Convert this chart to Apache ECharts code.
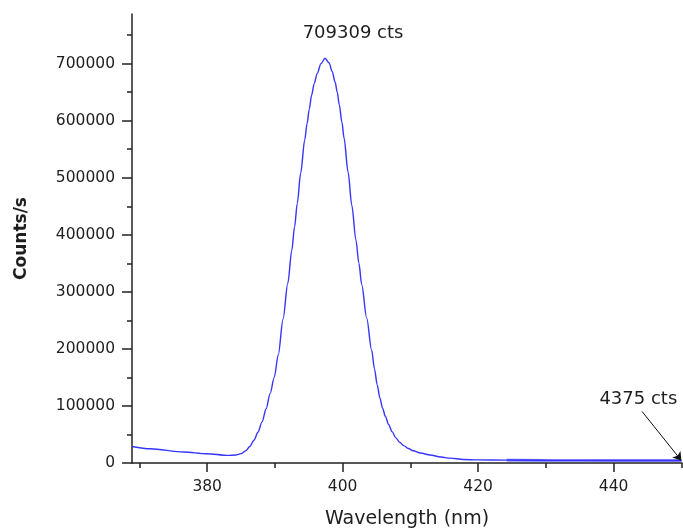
<!DOCTYPE html>
<html>
<head>
<meta charset="utf-8">
<script src="https://cdn.jsdelivr.net/npm/echarts@6/dist/echarts.min.js"></script>
<style>
html,body{margin:0;padding:0;background:#fff;}
#chart{width:683px;height:529px;}
</style>
</head>
<body>
<div id="chart"></div>
<script>
// Wavelength (nm)
const wavelengths = [368.9, 371.6, 376.5, 379.9, 383.0, 384.2, 385.0, 385.7, 386.3, 386.9,
  387.5, 388.1, 388.7, 389.3, 389.9, 390.5, 391.2, 391.9, 392.5, 392.9,
  393.3, 393.8, 394.4, 394.75, 395.07, 395.42, 395.8, 396.25, 396.8, 397.4,
  398.0, 398.46, 398.9, 399.2, 399.5, 399.9, 400.2, 400.8, 401.35, 401.96,
  402.4, 402.81, 403.55, 404.28, 404.7, 405.1, 405.5, 405.9, 406.3, 406.8,
  407.3, 407.8, 408.4, 409.0, 409.7, 410.4, 411.5, 412.9, 414.5, 415.9,
  417.8, 420.0, 424.2, 430, 440, 450];
// Counts/s
const counts = [29000, 25000, 19300, 16300, 13300, 14000, 16500, 21500, 29000, 40000,
  54000, 72000, 95000, 122000, 150000, 190000, 252000, 315000, 373500, 414000,
  455000, 507800, 566100, 595300, 620000, 645000, 665000, 683000, 700000, 709309,
  701000, 686000, 667000, 650000, 628000, 597000, 570000, 510000, 452000, 391000,
  350000, 313000, 254000, 198000, 165000, 137000, 114000, 96000, 82000, 67000,
  55000, 45000, 36500, 30500, 25500, 21500, 17500, 14000, 10500, 8500,
  6200, 5400, 5000, 4600, 4450, 4375];
const xTickLabels = [380, 400, 420, 440];
const yTickLabels = [0, 100000, 200000, 300000, 400000, 500000, 600000, 700000];

const seriesData = wavelengths.map((w, i) => [w, counts[i]]);
const peakIdx = counts.indexOf(Math.max(...counts));
const lastIdx = counts.length - 1;
// the far tail of the trace is drawn heavier in the original
const tailData = seriesData.filter(d => d[0] >= 424.2);

const FONT = 'DejaVu Sans';
const TXT = '#1e1e1e';
const AX = '#222';

const chart = echarts.init(document.getElementById('chart'), null, {renderer: 'canvas'});
chart.setOption({
  animation: false,
  backgroundColor: '#fff',
  grid: {left: 132, right: 1, top: 14, bottom: 66, containLabel: false, outerBoundsMode: 'none'},
  xAxis: {
    type: 'value', min: 368.9, max: 450.1,
    axisLine: {show: true, onZero: false, lineStyle: {color: AX, width: 1.5}},
    axisTick: {show: true, inside: false, length: 9, customValues: xTickLabels, lineStyle: {color: AX, width: 1.5}},
    minorTick: {show: true, splitNumber: 2, length: 5, lineStyle: {color: AX, width: 1.5}},
    axisLabel: {customValues: xTickLabels, margin: 16, fontFamily: FONT, fontSize: 15.5, color: TXT,
      formatter: v => String(v)},
    splitLine: {show: false}, minorSplitLine: {show: false},
    name: 'Wavelength (nm)', nameLocation: 'middle', nameGap: 47,
    nameTextStyle: {fontFamily: FONT, fontSize: 19, color: TXT}
  },
  yAxis: {
    type: 'value', min: 0, max: 787000, interval: 100000,
    axisLine: {show: true, onZero: false, lineStyle: {color: AX, width: 1.5}},
    axisTick: {show: true, inside: false, length: 10, customValues: yTickLabels, lineStyle: {color: AX, width: 1.5}},
    minorTick: {show: true, splitNumber: 2, length: 5, lineStyle: {color: AX, width: 1.5}},
    axisLabel: {customValues: yTickLabels, margin: 17, fontFamily: FONT, fontSize: 15.5, color: TXT,
      formatter: v => String(v)},
    splitLine: {show: false}, minorSplitLine: {show: false},
    name: 'Counts/s', nameLocation: 'middle', nameGap: 102,
    nameTextStyle: {fontFamily: FONT, fontSize: 17, fontWeight: 'bold', color: TXT}
  },
  series: [{
    type: 'line',
    data: seriesData,
    showSymbol: false,
    smooth: 0.3,
    smoothMonotone: 'x',
    clip: false,
    lineStyle: {color: '#3535ff', width: 1.4},
    markPoint: {
      silent: true,
      symbol: 'circle', symbolSize: 0,
      label: {show: true, position: 'inside', fontFamily: FONT, fontSize: 18, color: TXT},
      data: [
        {coord: seriesData[peakIdx], value: counts[peakIdx], label: {formatter: p => p.value + ' cts', offset: [28, -25]}},
        {coord: seriesData[lastIdx], value: counts[lastIdx], label: {formatter: p => p.value + ' cts', offset: [-43, -61]}}
      ]
    },
    markLine: {
      silent: true,
      symbol: ['none', 'arrow'], symbolSize: 8,
      label: {show: false},
      lineStyle: {color: '#111', width: 1, type: 'solid'},
      data: [[{coord: [444.2, 90350]}, {coord: seriesData[lastIdx]}]]
    }
  }, {
    type: 'line',
    data: tailData,
    showSymbol: false,
    silent: true,
    clip: false,
    z: 1,
    lineStyle: {color: '#6a6aff', width: 2.6}
  }]
});
</script>
</body>
</html>
